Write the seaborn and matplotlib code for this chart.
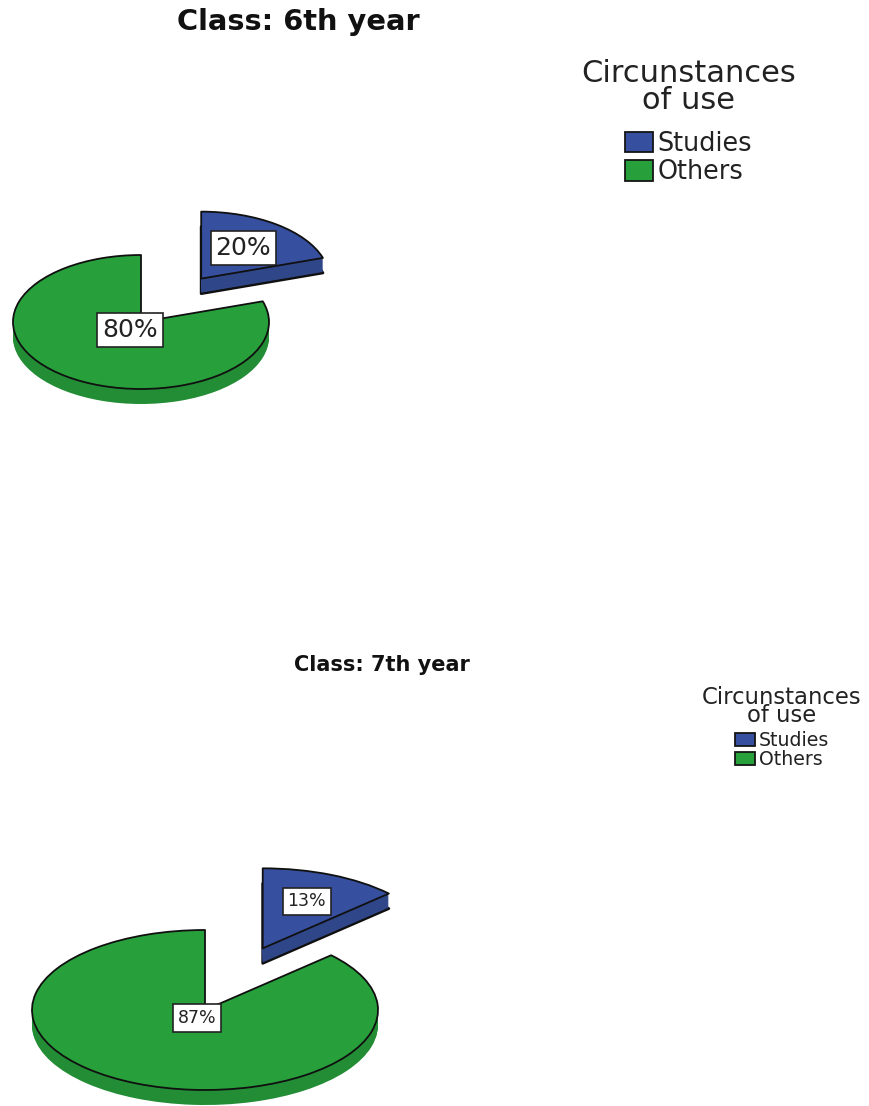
import math
import matplotlib
matplotlib.use("Agg")
import matplotlib.pyplot as plt
from matplotlib.patches import Patch
import seaborn as sns

# ---- data ----
categories = ["Studies", "Others"]
class_titles = ["Class: 6th year", "Class: 7th year"]
values_6th = [20, 80]
values_7th = [13, 87]
legend_title = "Circunstances\nof use"

# ---- style ----
top_colors = ["#36509F", "#27A03B"]
side_colors = ["#2F4689", "#238D35"]
W, H = 869, 1106

sns.set_theme(style="white")
plt.rcParams["font.family"] = ["DejaVu Sans"]
fig = plt.figure(figsize=(W / 100, H / 100), dpi=100, facecolor="white")


def draw_pie(values, cx, cy, rx, ry, depth, explode, label_r, fs, pad):
    span = 2.4
    ax = fig.add_axes([(cx - span * rx) / W, 1 - (cy + span * ry) / H,
                       2 * span * rx / W, 2 * span * ry / H], facecolor="none")
    ex = [explode, 0]
    kw = dict(startangle=90, counterclock=False, explode=ex)
    d = depth / ry
    # draw the Others wedge first, Studies wedge after so it sits on top
    for idx in (1, 0):
        vals = values
        c_side = [side_colors[i] if i == idx else "none" for i in range(2)]
        c_top = [top_colors[i] if i == idx else "none" for i in range(2)]
        if idx == 0:
            wedges, _ = ax.pie(vals, center=(0, -d), **kw, colors=c_side,
                               wedgeprops=dict(linewidth=2.0, joinstyle="round"))
            wedges[1].set_visible(False)
            wedges[0].set_edgecolor("#101010")
        for k in range(depth + (0 if idx == 0 else 1)):
            wedges, _ = ax.pie(vals, colors=c_side, center=(0, -d * k / depth),
                               wedgeprops=dict(linewidth=0), **kw)
        wedges, _ = ax.pie(vals, colors=c_top, center=(0, 0), **kw,
                           wedgeprops=dict(linewidth=1.3, joinstyle="round"))
        wedges[1 - idx].set_visible(False)
        wedges[idx].set_edgecolor("#101010")
        w = wedges[idx]
        mid = math.radians((w.theta1 + w.theta2) / 2)
        ax.text(w.center[0] + label_r[idx] * math.cos(mid),
                w.center[1] + label_r[idx] * math.sin(mid),
                f"{values[idx]}%", ha="center", va="center", fontsize=fs,
                color="#222222", zorder=10,
                bbox=dict(boxstyle=f"square,pad={pad}", fc="white", ec="#222222", lw=1.2))
    ax.set_aspect("auto")
    ax.set_xlim(-span, span)
    ax.set_ylim(-span, span)
    ax.set_axis_off()


def add_legend(x, y, fs, title_fs, hl, hh, spacing, title_ls, title_gap):
    handles = [Patch(facecolor=c, edgecolor="#151515", linewidth=1.3) for c in top_colors]
    leg = fig.legend(handles, categories, title=legend_title, loc="upper left",
                     bbox_to_anchor=(x / W, 1 - y / H), frameon=False, borderpad=0,
                     borderaxespad=0, fontsize=fs, title_fontsize=title_fs,
                     handlelength=hl, handleheight=hh, handletextpad=0.2,
                     labelspacing=spacing, labelcolor="#222222")
    t = leg.get_title()
    t.set_multialignment("center")
    t.set_color("#222222")
    t.set_linespacing(title_ls)
    leg._legend_box.sep = title_gap
    return leg


draw_pie(values_6th, 141, 322, 128, 67, 15, 0.8, (0.56, 0.15), 18, 0.2)
draw_pie(values_7th, 205, 1010, 173, 80, 15, 0.84, (0.64, 0.11), 12.5, 0.27)

fig.text(298 / W, 1 - 22 / H, class_titles[0], ha="center", va="center",
         fontsize=20.8, fontweight="bold", color="#111111")
fig.text(382 / W, 1 - 665 / H, class_titles[1], ha="center", va="center",
         fontsize=15, fontweight="bold", color="#111111")

add_legend(581, 59, 18.4, 22, 1.1, 0.85, 0.1, 0.92, 11.3)
add_legend(702, 686, 13.6, 16.4, 1.06, 0.7, 0.0, 0.72, 3)

fig.savefig("out.png", dpi=100, facecolor="white")
